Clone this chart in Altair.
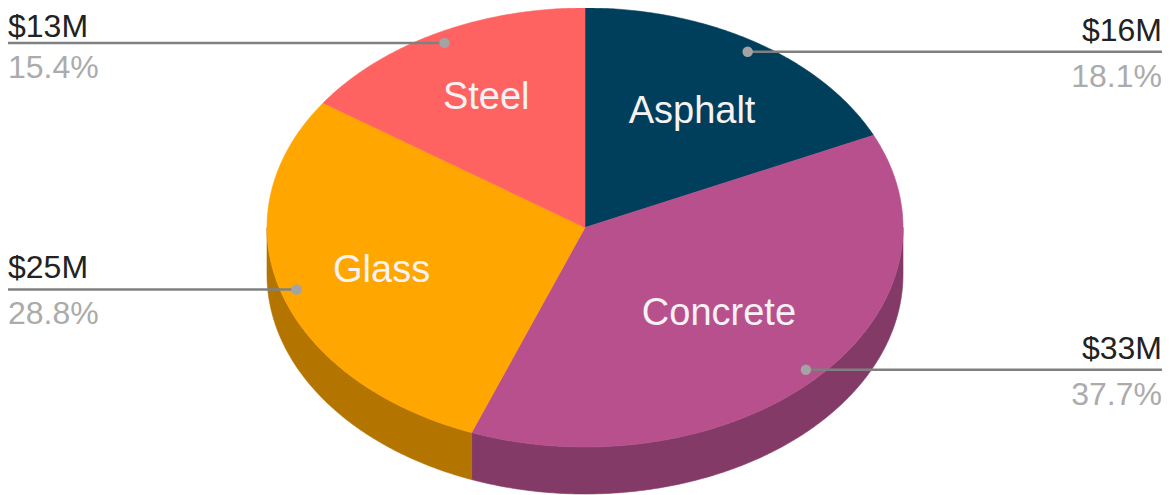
import math
import altair as alt
import pandas as pd

# ---- data ----
categories = ["Asphalt", "Concrete", "Glass", "Steel"]
value_labels = ["$16M", "$33M", "$25M", "$13M"]
shares = [18.1, 37.7, 28.8, 15.4]

# ---- styling ----
top_colors = ["#003f5c", "#b8508e", "#ffa600", "#ff6361"]
side_colors = ["#002a3e", "#843a66", "#b37400", "#b34644"]

# ---- layout (chart pixels) ----
W, H = 1154, 487
CX, CY, RX, RY, DEPTH = 577, 219.5, 318, 219.5, 47
LEADER_R = 0.95
LABEL_R = [0.625, 0.576, 0.67, 0.668]
VALUE_FONT = 32
VALUE_MIN_BASELINE = 29


def pt(deg, r=1.0, dy=0.0):
    a = math.radians(deg)
    return [CX + RX * r * math.sin(a), CY - RY * r * math.cos(a) + dy]


def arc(a0, a1, dy=0.0):
    n = max(2, int(abs(a1 - a0) * 2))
    return [pt(a0 + (a1 - a0) * i / n, 1.0, dy) for i in range(n + 1)]


tops, sides, rows = [], [], []
start = 0.0
for i, (cat, val, sh) in enumerate(zip(categories, value_labels, shares)):
    end = start + sh * 3.6
    mid = (start + end) / 2
    ring = [[CX, CY]] + arc(start, end) + [[CX, CY]]
    tops.append({"type": "Feature", "properties": {"name": cat},
                 "geometry": {"type": "Polygon", "coordinates": [ring]}})
    f0, f1 = max(start, 90.0), min(end, 270.0)
    if f1 > f0:
        upper = arc(f0, f1)
        lower = arc(f1, f0, DEPTH)
        wall = upper + lower + [upper[0]]
        sides.append({"type": "Feature", "properties": {"name": cat},
                      "geometry": {"type": "Polygon", "coordinates": [wall]}})
    dot = pt(mid, LEADER_R)
    lab = pt(mid, LABEL_R[i])
    rows.append({
        "name": cat, "value": val, "share": f"{sh}%",
        "dx": dot[0], "dy": dot[1],
        "vy": max(dot[1] - 11, VALUE_MIN_BASELINE),
        "sy": dot[1] + 35,
        "ex": W if mid < 180 else 0, "lx": lab[0], "ly": lab[1],
    })
    start = end

df = pd.DataFrame(rows)
proj = dict(type="identity", scale=1, translate=[0, 0])


def shape_layer(features, colors):
    scale = alt.Scale(domain=categories, range=colors)
    return (
        alt.Chart(alt.Data(values=features))
        .mark_geoshape(strokeWidth=0.6)
        .encode(
            fill=alt.Fill("properties.name:N", scale=scale, legend=None),
            stroke=alt.Stroke("properties.name:N", scale=scale, legend=None),
        )
        .project(**proj)
    )


base = alt.Chart(df).project(**proj)

leaders = base.mark_rule(color="#808080", strokeWidth=2.5).encode(
    longitude="dx:Q", latitude="dy:Q", longitude2="ex:Q", latitude2="dy:Q"
)
dots = base.mark_circle(color="#a3a3a3", opacity=1, size=110).encode(longitude="dx:Q", latitude="dy:Q")

inner = base.mark_text(font="Liberation Sans", fontSize=38, color="#f6f2f4", align="center", baseline="middle").encode(
    longitude="lx:Q", latitude="ly:Q", text="name:N"
)


def side_text(data, align, field, lat, color):
    return (
        alt.Chart(data).project(**proj)
        .mark_text(font="Liberation Sans", fontSize=VALUE_FONT, color=color, align=align, baseline="alphabetic")
        .encode(longitude="ex:Q", latitude=f"{lat}:Q", text=f"{field}:N")
    )


left = df[df.ex == 0]
right = df[df.ex == W]
texts = [
    side_text(left, "left", "value", "vy", "#222222"),
    side_text(left, "left", "share", "sy", "#ababab"),
    side_text(right, "right", "value", "vy", "#222222"),
    side_text(right, "right", "share", "sy", "#ababab"),
]

chart = (
    alt.layer(shape_layer(sides, side_colors), shape_layer(tops, top_colors), leaders, dots, inner, *texts)
    .resolve_scale(fill="independent", stroke="independent")
    .properties(width=W, height=H, padding=0, autosize=alt.AutoSizeParams(type="none"), background="white")
    .configure_view(stroke=None)
)

chart.save("out.html", embed_options={"renderer": "svg", "actions": False})
